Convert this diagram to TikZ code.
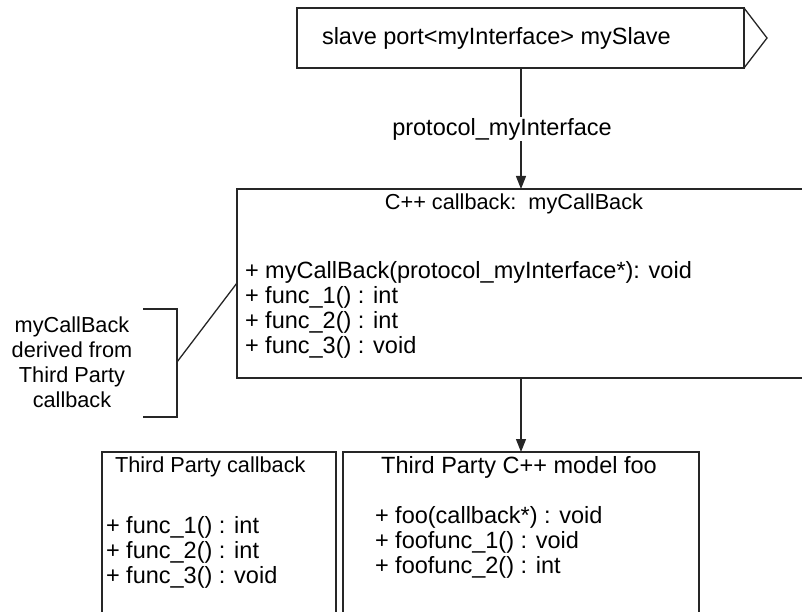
\documentclass[tikz,border=0pt]{standalone}
\usepackage{fontspec}
\setmainfont{Liberation Sans}
\usetikzlibrary{arrows.meta}
\tikzset{
  box/.style={draw=black!85, line width=1.3pt, rectangle, inner sep=0pt, outer sep=0pt},
  lucida/.style={font=\fontsize{23.5}{25}\selectfont, inner sep=0pt, outer sep=0pt},
  helv/.style={font=\fontsize{21.7}{25}\selectfont, inner sep=0pt, outer sep=0pt},
  conn/.style={draw=black!85, line width=1.3pt},
  arr/.style={conn, -{Triangle[length=13pt,width=10pt]}}
}
\begin{document}
\begin{tikzpicture}[x=1pt,y=-1pt]
\useasboundingbox (0,0) rectangle (802,612);
\clip (0,0) rectangle (802,612);
% top slave port box
\node[box, minimum width=447pt, minimum height=60pt] (slave) at (520.5,38) {};
\draw[conn, line join=miter] (slave.north east) -- ++(23,30) -- (slave.south east);
\node[lucida, anchor=west] (slavetxt) at (322,38) {slave port<myInterface> mySlave};
% middle callback box
\node[box, anchor=north west, minimum width=620pt, minimum height=189pt] (cb) at (237,189) {};
\node[helv] (cbtitle) at (514,204) {C++ callback:\ \ myCallBack};
\node[lucida, anchor=north west, align=left] (cbmeth) at (245,261) {+ myCallBack(protocol\_myInterface*): void\\+ func\_1() : int\\+ func\_2() : int\\+ func\_3() : void};
% protocol arrow and label
\coordinate (slavebot) at (521,68);
\coordinate (cbtop) at (521,189);
\draw[arr] (slavebot) -- (cbtop);
\node[lucida, fill=white, inner xsep=2pt, inner ysep=1.5pt] (proto) at (502,129) {protocol\_myInterface};
% bracket note
\node[helv, align=center] (note) at (72,362) {myCallBack\\derived from\\Third Party\\callback};
\coordinate (bt) at (143,309);
\coordinate (bb) at (143,417);
\coordinate (bm) at (177,362);
\coordinate (cbl) at (237,283);
\draw[conn] (bt) -- (177,309) -- (177,417) -- (bb);
\draw[conn] (bm) -- (cbl);
% bottom boxes
\node[box, anchor=north west, minimum width=234pt, minimum height=200pt] (tpc) at (102,452) {};
\node[helv, anchor=west] (tpctitle) at (115,467) {Third Party callback};
\node[lucida, anchor=north west, align=left] (tpcmeth) at (106,516) {+ func\_1() : int\\+ func\_2() : int\\+ func\_3() : void};
\node[box, anchor=north west, minimum width=356pt, minimum height=200pt] (foo) at (343,452) {};
\node[lucida] (footitle) at (519,467) {Third Party C++ model foo};
\node[lucida, anchor=north west, align=left] (foometh) at (375,506) {+ foo(callback*) : void\\+ foofunc\_1() : void\\+ foofunc\_2() : int};
\coordinate (cbbot) at (521,378);
\coordinate (footop) at (521,452);
\draw[arr] (cbbot) -- (footop);
\end{tikzpicture}
\end{document}
